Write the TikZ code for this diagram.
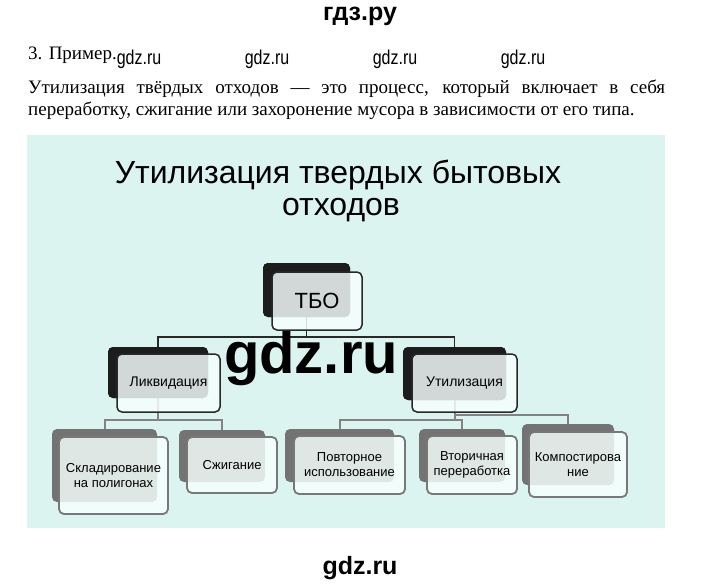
\documentclass[tikz,border=0pt]{standalone}
\usepackage{fontspec}
\setmainfont{Liberation Serif}
\newfontfamily\arialf{Liberation Sans}
\definecolor{panelc}{RGB}{220,244,240}
\definecolor{shdark}{RGB}{28,28,28}
\definecolor{shgray}{RGB}{115,115,115}
\definecolor{frontc}{RGB}{246,255,253}
\definecolor{bdark}{RGB}{40,40,40}
\definecolor{bgray}{RGB}{120,120,120}
\definecolor{lgray}{RGB}{130,130,130}
\tikzset{
  shA/.style={fill=shdark, rounded corners=5pt, inner sep=0pt},
  shB/.style={fill=shgray, rounded corners=5pt, inner sep=0pt},
  frA/.style={draw=bdark, line width=1.5pt, rounded corners=5pt, fill=frontc, fill opacity=0.83, text opacity=1, inner sep=0pt, align=center, font=\arialf\fontsize{14}{16}\selectfont},
  frB/.style={draw=bgray, line width=1.8pt, rounded corners=5pt, fill=frontc, fill opacity=0.83, text opacity=1, inner sep=0pt, align=center, font=\arialf\fontsize{13}{15}\selectfont},
  conA/.style={draw=bdark, line width=1.3pt},
  conB/.style={draw=lgray, line width=2pt},
  wm/.style={font=\arialf\fontsize{20}{20}\selectfont, anchor=base, inner sep=0pt},
  ttl/.style={anchor=base, inner sep=0pt, font=\arialf\fontsize{32}{32}\selectfont},
}
\begin{document}
\begin{tikzpicture}[x=1pt,y=-1pt]
\useasboundingbox[fill=white] (0,0) rectangle (720,584);
% header
\node[anchor=base, inner sep=0pt, font=\arialf\bfseries\fontsize{25}{25}\selectfont] (hdr) at (360,20) {гдз.ру};
\node[anchor=base west, inner sep=0pt, font=\fontsize{19}{22}\selectfont] (num) at (28,59) {3. Пример.};
\node[wm] (w1) at (139,64) {\scalebox{0.8}[1]{gdz.ru}};
\node[wm] (w2) at (267,64) {\scalebox{0.8}[1]{gdz.ru}};
\node[wm] (w3) at (395,64) {\scalebox{0.8}[1]{gdz.ru}};
\node[wm] (w4) at (523,64) {\scalebox{0.8}[1]{gdz.ru}};
\node[anchor=base west, inner sep=0pt, font=\fontsize{19}{22}\selectfont] (p1) at (28,93) {\makebox[637pt][s]{Утилизация твёрдых отходов — это процесс, который включает в себя}};
\node[anchor=base west, inner sep=0pt, font=\fontsize{19}{22}\selectfont] (p2) at (28,115) {переработку, сжигание или захоронение мусора в зависимости от его типа.};
% panel
\fill[panelc] (27,135) rectangle (665,528);
\node[ttl] (title1) at (338,183) {Утилизация твердых бытовых};
\node[ttl] (title2) at (341,215) {отходов};
% connectors
\coordinate (j0) at (306.5,337);
\coordinate (j1) at (158,420);
\coordinate (j2) at (454.5,420);
\coordinate (j3) at (454.5,415);
% shadows
\node[shA, minimum width=87, minimum height=54] (tboS) at (306.5,290) {};
\node[shA, minimum width=100, minimum height=51] (liqS) at (158,372.5) {};
\node[shA, minimum width=103, minimum height=53] (utS) at (454.5,373.5) {};
\node[shB, minimum width=105, minimum height=73] (sklS) at (104.5,465.5) {};
\node[shB, minimum width=86, minimum height=52] (szhS) at (222,456) {};
\node[shB, minimum width=109, minimum height=53] (povS) at (339.5,455.5) {};
\node[shB, minimum width=86, minimum height=53] (vtoS) at (462,455.5) {};
\node[shB, minimum width=92, minimum height=61] (komS) at (568,454.5) {};
\draw[conA] (tboS.center) -- (j0);
\draw[conA] (j0) -| (liqS.north);
\draw[conA] (j0) -| (utS.north);
\draw[conB] (liqS.center) -- (j1);
\draw[conB] (j1) -| (sklS.north);
\draw[conB] (j1) -| (szhS.north);
\draw[conB] (utS.center) -- (j2);
\draw[conB] (j2) -| (povS.north);
\draw[conB] (j2) -| (vtoS.north);
\draw[conB] (j3) -| (komS.north);
% redraw shadows over connectors
\node[shA, minimum width=87, minimum height=54] (tboS2) at (tboS) {};
\node[shA, minimum width=100, minimum height=51] (liqS2) at (liqS) {};
\node[shA, minimum width=103, minimum height=53] (utS2) at (utS) {};
% front boxes
\node[frA, minimum width=90, minimum height=58, font=\arialf\fontsize{22}{24}\selectfont] (tbo) at (317,301) {ТБО};
\node[frA, minimum width=103, minimum height=58] (liq) at (168.5,383) {Ликвидация};
\node[frA, minimum width=105, minimum height=58] (ut) at (464.5,383) {Утилизация};
\node[frB, minimum width=109, minimum height=77] (skl) at (113.5,475.5) {Складирование\\на полигонах};
\node[frB, minimum width=90, minimum height=56] (szh) at (232,465) {Сжигание};
\node[frB, minimum width=111, minimum height=58] (pov) at (349.5,465) {Повторное\\использование};
\node[frB, minimum width=90, minimum height=58] (vto) at (472,465) {Вторичная\\переработка};
\node[frB, minimum width=98, minimum height=65] (kom) at (578,464.5) {Компостирова\\ние};
% watermarks
\node[anchor=base, inner sep=0pt, font=\arialf\bfseries\fontsize{58}{58}\selectfont] (wbig) at (311,373) {gdz.ru};
\node[anchor=base, inner sep=0pt, font=\arialf\bfseries\fontsize{25}{25}\selectfont] (wbot) at (360,574) {gdz.ru};
\end{tikzpicture}
\end{document}
